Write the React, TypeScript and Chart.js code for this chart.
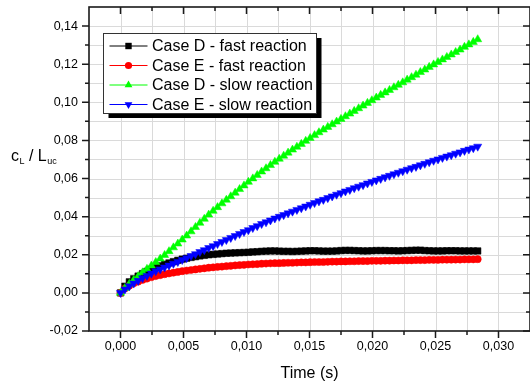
import { useEffect, useRef } from 'react';
import { Chart, registerables } from 'chart.js';

Chart.register(...registerables);

// Sampled time (s)
const timeS = [
  0, 0.00035, 0.0007, 0.00105, 0.0014, 0.00175, 0.0021, 0.00245, 0.0028, 0.00315,
  0.0035, 0.00385, 0.0042, 0.00455, 0.0049, 0.00525, 0.0056, 0.00595, 0.0063, 0.00665,
  0.007, 0.00735, 0.0077, 0.00805, 0.0084, 0.00875, 0.0091, 0.00945, 0.0098, 0.01015,
  0.0105, 0.01085, 0.0112, 0.01155, 0.0119, 0.01225, 0.0126, 0.01295, 0.0133, 0.01365,
  0.014, 0.01435, 0.0147, 0.01505, 0.0154, 0.01575, 0.0161, 0.01645, 0.0168, 0.01715,
  0.0175, 0.01785, 0.0182, 0.01855, 0.0189, 0.01925, 0.0196, 0.01995, 0.0203, 0.02065,
  0.021, 0.02135, 0.0217, 0.02205, 0.0224, 0.02275, 0.0231, 0.02345, 0.0238, 0.02415,
  0.0245, 0.02485, 0.0252, 0.02555, 0.0259, 0.02625, 0.0266, 0.02695, 0.0273, 0.02765,
  0.028, 0.02835,
];

// cL / Luc for each case
const caseDFast = [
  0, 0.0035, 0.0058, 0.0074, 0.0088, 0.0101, 0.0113, 0.0124, 0.0133, 0.0142,
  0.015, 0.0157, 0.0164, 0.0171, 0.0177, 0.0182, 0.0186, 0.019, 0.0194, 0.0197,
  0.02, 0.0202, 0.0204, 0.0206, 0.0208, 0.0209, 0.021, 0.0211, 0.0212, 0.0213,
  0.0215, 0.0216, 0.0218, 0.0219, 0.022, 0.022, 0.0219, 0.0218, 0.0218, 0.0217,
  0.0218, 0.0219, 0.022, 0.0221, 0.0221, 0.022, 0.0219, 0.0219, 0.0219, 0.022,
  0.0222, 0.0223, 0.0223, 0.0222, 0.0221, 0.022, 0.022, 0.0221, 0.0222, 0.0222,
  0.0222, 0.0221, 0.0221, 0.022, 0.0221, 0.0222, 0.0223, 0.0224, 0.0224, 0.0222,
  0.0221, 0.022, 0.022, 0.022, 0.0221, 0.0221, 0.0221, 0.022, 0.022, 0.022,
  0.022, 0.022,
];

const caseEFast = [
  0, 0.0023, 0.0038, 0.005, 0.0059, 0.0068, 0.0075, 0.0082, 0.0088, 0.0093,
  0.0098, 0.0102, 0.0106, 0.011, 0.0114, 0.0117, 0.012, 0.0123, 0.0126, 0.0129,
  0.0132, 0.0134, 0.0136, 0.0138, 0.014, 0.0142, 0.0144, 0.0146, 0.0147, 0.0149,
  0.015, 0.0151, 0.0153, 0.0154, 0.0155, 0.0156, 0.0156, 0.0157, 0.0158, 0.0158,
  0.0159, 0.016, 0.016, 0.0161, 0.0162, 0.0162, 0.0162, 0.0163, 0.0164, 0.0164,
  0.0165, 0.0165, 0.0166, 0.0166, 0.0167, 0.0167, 0.0167, 0.0168, 0.0168, 0.0168,
  0.0169, 0.0169, 0.017, 0.017, 0.0171, 0.0171, 0.0171, 0.0172, 0.0172, 0.0172,
  0.0173, 0.0173, 0.0173, 0.0174, 0.0174, 0.0174, 0.0175, 0.0175, 0.0176, 0.0176,
  0.0176, 0.0177,
];

const caseDSlow = [
  0, 0.0025, 0.0047, 0.0068, 0.0087, 0.0107, 0.0125, 0.0143, 0.0161, 0.0179,
  0.0198, 0.0218, 0.0238, 0.0258, 0.0279, 0.03, 0.0322, 0.0345, 0.0367, 0.0388,
  0.041, 0.043, 0.0449, 0.0469, 0.0488, 0.0506, 0.0525, 0.0544, 0.0563, 0.0582,
  0.06, 0.0618, 0.0636, 0.0653, 0.067, 0.0687, 0.0703, 0.0719, 0.0735, 0.0751,
  0.0766, 0.0781, 0.0797, 0.0812, 0.0827, 0.0842, 0.0856, 0.087, 0.0884, 0.0898,
  0.0912, 0.0926, 0.094, 0.0954, 0.0968, 0.0982, 0.0996, 0.101, 0.1024, 0.1038,
  0.1051, 0.1064, 0.1078, 0.1091, 0.1104, 0.1118, 0.1131, 0.1144, 0.1158, 0.1171,
  0.1185, 0.1198, 0.1211, 0.1224, 0.1237, 0.125, 0.1263, 0.1276, 0.129, 0.1303,
  0.1316, 0.133,
];

const caseESlow = [
  0, 0.0019, 0.0035, 0.005, 0.0064, 0.0078, 0.009, 0.0102, 0.0114, 0.0124,
  0.0134, 0.0144, 0.0154, 0.0163, 0.0173, 0.0183, 0.0194, 0.0204, 0.0215, 0.0225,
  0.0236, 0.0246, 0.0257, 0.0268, 0.0278, 0.0289, 0.0299, 0.031, 0.032, 0.033,
  0.0341, 0.0351, 0.0362, 0.0371, 0.0381, 0.0391, 0.04, 0.0409, 0.0418, 0.0427,
  0.0436, 0.0445, 0.0454, 0.0463, 0.0472, 0.0481, 0.0489, 0.0498, 0.0507, 0.0516,
  0.0524, 0.0533, 0.0541, 0.055, 0.0558, 0.0566, 0.0575, 0.0583, 0.0591, 0.0599,
  0.0607, 0.0615, 0.0623, 0.0631, 0.0639, 0.0647, 0.0655, 0.0662, 0.067, 0.0678,
  0.0686, 0.0694, 0.0701, 0.0709, 0.0716, 0.0723, 0.0731, 0.0738, 0.0746, 0.0753,
  0.076, 0.0768,
];

const seriesNames = [
  'Case D - fast reaction',
  'Case E - fast reaction',
  'Case D - slow reaction',
  'Case E - slow reaction',
];
const seriesValues = [caseDFast, caseEFast, caseDSlow, caseESlow];
const seriesColors = ['#000000', '#ff0000', '#00ff00', '#0000ff'];
type Marker = 'square' | 'circle' | 'up' | 'down';
const seriesMarkers: Marker[] = ['square', 'circle', 'up', 'down'];

// Labelled ticks
const xTickValues = [0, 0.005, 0.01, 0.015, 0.02, 0.025, 0.03];
const yTickValues = [-0.02, 0, 0.02, 0.04, 0.06, 0.08, 0.1, 0.12, 0.14];

const X_MIN = -0.0025;
const X_MAX = 0.0325;
const Y_MIN = -0.02;
const Y_MAX = 0.15;
const X_MINOR = 0.0025;
const Y_MINOR = 0.01;

const FONT = '"Liberation Sans", Arial, Helvetica, sans-serif';

function drawMarker(ctx: CanvasRenderingContext2D, kind: Marker, x: number, y: number, color: string) {
  ctx.save();
  ctx.fillStyle = color;
  ctx.beginPath();
  if (kind === 'square') {
    ctx.rect(x - 3.2, y - 3.2, 6.4, 6.4);
  } else if (kind === 'circle') {
    ctx.arc(x, y, 3.6, 0, Math.PI * 2);
  } else if (kind === 'up') {
    ctx.moveTo(x, y - 4.5);
    ctx.lineTo(x + 3.9, y + 2.3);
    ctx.lineTo(x - 3.9, y + 2.3);
    ctx.closePath();
  } else {
    ctx.moveTo(x, y + 4.5);
    ctx.lineTo(x + 3.9, y - 2.3);
    ctx.lineTo(x - 3.9, y - 2.3);
    ctx.closePath();
  }
  ctx.fill();
  ctx.restore();
}

// Grid lines behind the data
const gridPlugin = {
  id: 'originGrid',
  beforeDatasetsDraw(chart: any) {
    const { ctx, chartArea: a, scales } = chart;
    const xs = scales.x;
    const ys = scales.y;
    ctx.save();
    ctx.strokeStyle = '#dadada';
    ctx.lineWidth = 1;
    const nx = Math.round((X_MAX - X_MIN) / X_MINOR);
    for (let i = 1; i < nx; i++) {
      const px = Math.round(xs.getPixelForValue(X_MIN + i * X_MINOR)) + 0.5;
      ctx.beginPath();
      ctx.moveTo(px, a.top);
      ctx.lineTo(px, a.bottom);
      ctx.stroke();
    }
    const ny = Math.round((Y_MAX - Y_MIN) / Y_MINOR);
    for (let j = 1; j < ny; j++) {
      const py = Math.round(ys.getPixelForValue(Y_MIN + j * Y_MINOR)) + 0.5;
      ctx.beginPath();
      ctx.moveTo(a.left, py);
      ctx.lineTo(a.right, py);
      ctx.stroke();
    }
    ctx.restore();
  },
};

// Frame, tick marks, y title and legend box
const framePlugin = {
  id: 'originFrame',
  afterDatasetsDraw(chart: any) {
    const { ctx, chartArea: a, scales } = chart;
    const xs = scales.x;
    const ys = scales.y;
    ctx.save();
    ctx.strokeStyle = '#1a1a1a';
    ctx.lineWidth = 1.6;
    ctx.strokeRect(a.left, a.top, a.right - a.left, a.bottom - a.top);

    ctx.lineWidth = 1.5;
    const nx = Math.round((X_MAX - X_MIN) / X_MINOR);
    for (let i = 1; i < nx; i++) {
      const major = i % 2 === 1;
      const len = major ? 7 : 4;
      const px = xs.getPixelForValue(X_MIN + i * X_MINOR);
      ctx.beginPath();
      ctx.moveTo(px, a.bottom);
      ctx.lineTo(px, a.bottom + len);
      ctx.moveTo(px, a.top);
      ctx.lineTo(px, a.top + len);
      ctx.stroke();
    }
    const ny = Math.round((Y_MAX - Y_MIN) / Y_MINOR);
    for (let j = 0; j < ny; j++) {
      const major = j % 2 === 0;
      const len = major ? 7 : 4;
      const py = ys.getPixelForValue(Y_MIN + j * Y_MINOR);
      ctx.beginPath();
      ctx.moveTo(a.left, py);
      ctx.lineTo(a.left - len, py);
      ctx.moveTo(a.right, py);
      ctx.lineTo(a.right - len, py);
      ctx.stroke();
    }

    // y-axis title: c_L / L_uc
    ctx.fillStyle = '#000';
    ctx.textBaseline = 'alphabetic';
    let tx = 11;
    const base = 161;
    ctx.font = `16px ${FONT}`;
    ctx.fillText('c', tx, base);
    tx += ctx.measureText('c').width + 0.5;
    ctx.font = `9px ${FONT}`;
    ctx.fillText('L', tx, base + 3);
    tx += ctx.measureText('L').width;
    ctx.font = `16px ${FONT}`;
    ctx.fillText(' / L', tx, base);
    tx += ctx.measureText(' / L').width + 0.5;
    ctx.font = `9px ${FONT}`;
    ctx.fillText('uc', tx, base + 3);

    // legend box with drop shadow
    const bx = a.left + 14.5;
    const by = 33.5;
    const bw = 213;
    const bh = 80;
    ctx.fillStyle = '#000';
    ctx.fillRect(bx + 5, by + 4.5, bw, bh);
    ctx.fillStyle = '#fff';
    ctx.fillRect(bx, by, bw, bh);
    ctx.strokeStyle = '#333';
    ctx.lineWidth = 1;
    ctx.strokeRect(bx, by, bw, bh);

    ctx.font = `16px ${FONT}`;
    ctx.textBaseline = 'middle';
    seriesNames.forEach((name, k) => {
      const ry = by + 12.5 + k * 19.5;
      ctx.strokeStyle = seriesColors[k];
      ctx.lineWidth = 1;
      ctx.beginPath();
      ctx.moveTo(bx + 6, ry);
      ctx.lineTo(bx + 44, ry);
      ctx.stroke();
      drawMarker(ctx, seriesMarkers[k], bx + 25, ry, seriesColors[k]);
      ctx.fillStyle = '#000';
      ctx.fillText(name, bx + 48.5, ry + 1);
    });
    ctx.restore();
  },
};

const pointStyles: Record<Marker, { style: string; radius: number; rotation: number }> = {
  square: { style: 'rect', radius: 4.6, rotation: 0 },
  circle: { style: 'circle', radius: 3.6, rotation: 0 },
  up: { style: 'triangle', radius: 4.7, rotation: 0 },
  down: { style: 'triangle', radius: 4.7, rotation: 180 },
};

export default function App() {
  const canvasRef = useRef<HTMLCanvasElement | null>(null);

  useEffect(() => {
    const canvas = canvasRef.current;
    if (!canvas) return;

    const datasets = seriesNames.map((name, k) => {
      const ps = pointStyles[seriesMarkers[k]];
      return {
        label: name,
        data: timeS.map((t, i) => ({ x: t, y: seriesValues[k][i] })),
        borderColor: seriesColors[k],
        backgroundColor: seriesColors[k],
        borderWidth: 1,
        pointStyle: ps.style,
        pointRadius: ps.radius,
        pointRotation: ps.rotation,
        pointBorderWidth: 0.5,
        pointBorderColor: seriesColors[k],
        pointBackgroundColor: seriesColors[k],
        showLine: true,
        tension: 0,
        order: 4 - k,
      };
    });

    const chart = new Chart(canvas, {
      type: 'scatter',
      data: { datasets },
      options: {
        animation: false,
        responsive: false,
        devicePixelRatio: 1,
        layout: { autoPadding: false, padding: { top: 7, right: 0, bottom: 0, left: 0 } },
        plugins: {
          legend: { display: false },
          tooltip: { enabled: false },
        },
        scales: {
          x: {
            type: 'linear',
            min: X_MIN,
            max: X_MAX,
            grid: { display: false, drawTicks: false },
            border: { display: false },
            afterBuildTicks: (s: any) => {
              s.ticks = xTickValues.map((v) => ({ value: v }));
            },
            afterFit: (s: any) => {
              s.height = 54;
              s.paddingLeft = 0;
              s.paddingRight = 0;
            },
            ticks: {
              autoSkip: false,
              maxRotation: 0,
              padding: 8,
              color: '#000',
              font: { family: FONT, size: 12.5 },
              callback: (v: any) => Number(v).toFixed(3).replace('.', ','),
            },
            title: {
              display: true,
              text: 'Time (s)',
              color: '#000',
              font: { family: FONT, size: 16 },
              padding: { top: 0, bottom: 2 },
            },
          },
          y: {
            type: 'linear',
            min: Y_MIN,
            max: Y_MAX,
            grid: { display: false, drawTicks: false },
            border: { display: false },
            afterBuildTicks: (s: any) => {
              s.ticks = yTickValues.map((v) => ({ value: v }));
            },
            afterFit: (s: any) => {
              s.width = 89;
              s.paddingTop = 0;
              s.paddingBottom = 0;
            },
            ticks: {
              autoSkip: false,
              padding: 11,
              color: '#000',
              font: { family: FONT, size: 12.5 },
              callback: (v: any) => {
                const r = Math.round(Number(v) * 100) / 100;
                return (Math.abs(r) < 1e-9 ? 0 : r).toFixed(2).replace('.', ',');
              },
            },
          },
        },
      },
      plugins: [gridPlugin, framePlugin],
    } as any);

    return () => chart.destroy();
  }, []);

  return (
    <div style={{ position: 'absolute', left: 0, top: 0, width: 530, height: 385, background: '#fff' }}>
      <canvas ref={canvasRef} width={530} height={385} style={{ width: 530, height: 385, display: 'block' }} />
    </div>
  );
}
